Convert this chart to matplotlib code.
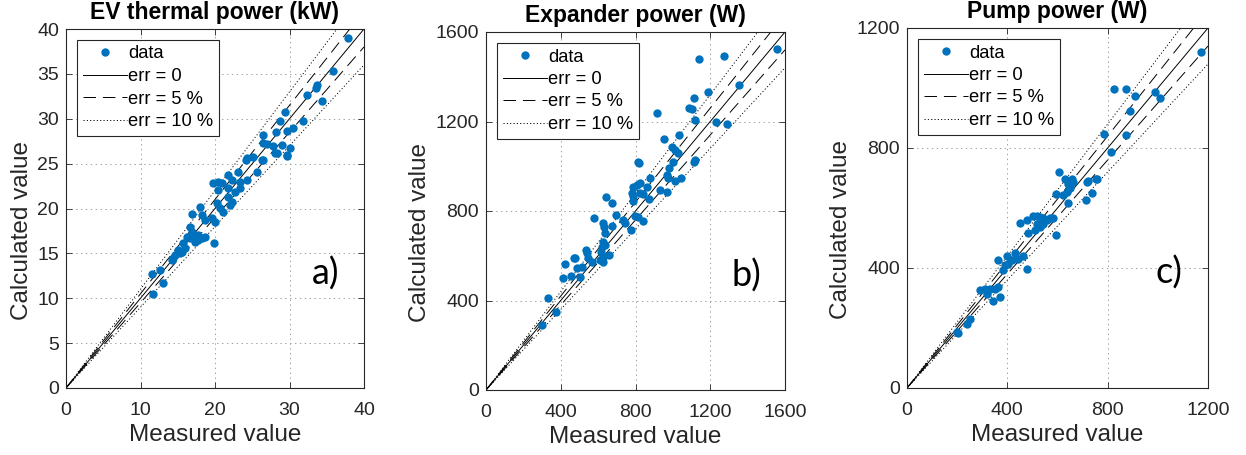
import numpy as np
import matplotlib
matplotlib.use("Agg")
import matplotlib.pyplot as plt

plt.rcParams['font.family'] = ['Liberation Sans', 'DejaVu Sans']
plt.rcParams['lines.scale_dashes'] = False

# ---- Panel a: EV thermal power (kW) ----
ev_meas = [37.9, 35.8, 33.7, 33.5, 32.3, 34.4, 29.4, 28.7, 31.8, 30.5, 29.7, 28.2, 26.4, 26.4, 27.0,
           27.8, 29.0, 30.1, 28.1, 29.7, 24.2, 25.1, 26.4, 25.6, 28.3, 21.7, 23.1, 19.7, 20.4, 20.9,
           22.3, 23.4, 24.3, 20.4, 21.7, 22.7, 23.4, 21.7, 22.3, 22.0, 18.0, 20.3, 20.7, 21.1, 16.9,
           18.3, 18.7, 19.6, 20.0, 16.6, 16.9, 16.2, 16.6, 17.0, 17.7, 18.3, 18.7, 17.3, 17.7, 19.9,
           15.7, 16.0, 15.0, 15.3, 14.6, 14.4, 14.2, 15.6, 11.5, 12.6, 13.0, 11.7, 24.3, 26.3, 29.7]
ev_calc = [39.0, 35.3, 33.8, 33.4, 32.6, 32.0, 30.8, 29.7, 29.8, 29.0, 28.6, 28.5, 28.2, 27.3, 27.2,
           27.0, 27.1, 26.7, 26.2, 26.0, 25.4, 25.7, 25.4, 24.1, 26.2, 23.7, 24.1, 22.8, 22.9, 22.8,
           23.2, 23.0, 23.2, 22.1, 22.3, 21.8, 22.3, 21.3, 20.7, 20.4, 20.2, 20.6, 20.1, 19.6, 19.4,
           19.3, 18.7, 18.9, 18.5, 17.9, 17.4, 16.8, 16.7, 16.8, 17.0, 16.7, 16.8, 16.3, 16.5, 16.2,
           16.2, 15.6, 15.4, 15.0, 14.8, 14.5, 14.3, 15.2, 12.7, 13.1, 11.7, 10.5, 25.6, 25.4, 25.9]

# ---- Panel b: Expander power (W) ----
exp_meas = [1555, 1274, 1141, 1356, 1190, 1113, 1088, 1101, 913, 1118, 1229, 1288, 1034, 952, 993,
            1011, 1029, 815, 820, 999, 1118, 1115, 981, 877, 788, 806, 824, 860, 976, 967, 1011,
            1042, 931, 967, 780, 785, 824, 838, 874, 785, 640, 672, 696, 578, 628, 633, 672, 735,
            744, 797, 815, 838, 774, 637, 628, 637, 619, 535, 539, 614, 628, 660, 473, 547, 566,
            610, 628, 423, 485, 512, 503, 453, 410, 334, 375, 298, 476]
exp_calc = [1523, 1493, 1478, 1363, 1333, 1306, 1262, 1256, 1236, 1207, 1196, 1187, 1140, 1120, 1087,
            1073, 1058, 1020, 1013, 1020, 1028, 1017, 991, 946, 909, 916, 924, 909, 946, 961, 935,
            946, 894, 886, 879, 867, 879, 875, 852, 846, 861, 834, 782, 767, 748, 730, 733, 760,
            745, 778, 772, 757, 715, 703, 663, 648, 640, 626, 614, 618, 596, 603, 591, 588, 573,
            581, 573, 563, 544, 551, 506, 509, 499, 412, 350, 290, 588]

# ---- Panel c: Pump power (W) ----
pump_meas = [1174, 825, 873, 908, 988, 1008, 888, 786, 875, 812, 606, 629, 656, 663, 720, 753, 736,
             649, 636, 596, 643, 716, 756, 712, 623, 643, 503, 517, 530, 543, 557, 570, 583, 450,
             477, 517, 530, 543, 483, 510, 596, 364, 397, 430, 464, 479, 390, 384, 404, 417, 443,
             291, 311, 331, 351, 364, 371, 344, 318, 251, 238, 204, 198]
pump_calc = [1120, 998, 996, 972, 985, 965, 922, 848, 842, 787, 720, 698, 696, 687, 689, 696, 651,
             665, 653, 648, 681, 687, 698, 626, 642, 617, 572, 572, 570, 565, 559, 565, 565, 551,
             561, 548, 537, 548, 517, 526, 511, 426, 439, 450, 439, 398, 409, 392, 415, 426, 431,
             328, 331, 331, 331, 337, 303, 290, 315, 231, 212, 183, 187]

titles = ["EV thermal power (kW)", "Expander power (W)", "Pump power (W)"]
limits = [40, 1600, 1200]
xsteps = [10, 400, 400]
ysteps = [5, 400, 400]
panel_tags = ["a)", "b)", "c)"]
err_levels = [0.05, 0.10]

measured = [ev_meas, exp_meas, pump_meas]
calculated = [ev_calc, exp_calc, pump_calc]

fig = plt.figure(figsize=(12.46, 4.55), dpi=100)
W, H = 1246, 455
boxes = [(66, 29, 364, 388), (486, 32, 785, 390), (907, 28, 1208, 388)]
blue = '#0072BD'
dark = '#262626'

for i in range(3):
    l, t, r, b = boxes[i]
    ax = fig.add_axes([l / W, 1 - b / H, (r - l) / W, (b - t) / H])
    lim = limits[i]
    xs = np.array([0, lim])
    ax.plot(measured[i], calculated[i], 'o', color=blue, markersize=6,
            markeredgewidth=0, label='data', zorder=3)
    ax.plot(xs, xs, '-', color='black', lw=0.7, label='err = 0', zorder=2)
    ax.plot(xs, xs * (1 + err_levels[0]), color='black', lw=0.7,
            dashes=(9, 5), label='err = 5 %', zorder=2)
    ax.plot(xs, xs * (1 - err_levels[0]), color='black', lw=0.7, dashes=(9, 5), zorder=2)
    ax.plot(xs, xs * (1 + err_levels[1]), color='black', lw=0.7,
            dashes=(0.8, 1.6), label='err = 10 %', zorder=2)
    ax.plot(xs, xs * (1 - err_levels[1]), color='black', lw=0.7, dashes=(0.8, 1.6), zorder=2)

    ax.set_xlim(0, lim)
    ax.set_ylim(0, lim)
    xt = np.arange(0, lim + 1e-9, xsteps[i])
    yt = np.arange(0, lim + 1e-9, ysteps[i])
    ax.set_xticks(xt)
    ax.set_yticks(yt)
    ax.set_xticklabels([f"{v:g}" for v in xt])
    ax.set_yticklabels([f"{v:g}" for v in yt])
    ax.tick_params(direction='in', top=True, right=True, labelsize=14,
                   length=4, width=0.6, colors=dark, pad=5)
    ax.tick_params(axis='x', pad=10)
    ax.grid(True, linestyle=(0, (1, 2.5)), color='#a0a0a0', lw=0.7)
    for s in ax.spines.values():
        s.set_linewidth(0.8)
        s.set_color(dark)

    ax.set_title(titles[i], fontsize=16.5, fontweight='bold', pad=7)
    ax.set_xlabel("Measured value", fontsize=17.5, color=dark, labelpad=4)
    ax.set_ylabel("Calculated value", fontsize=17.5, color=dark, labelpad=3)
    ax.yaxis.label.set_y(0.44)

    leg = ax.legend(loc='upper left', bbox_to_anchor=(11 / (r - l), 1 - 11 / (b - t)),
                    fontsize=13.2, handlelength=2.4, handletextpad=0.1,
                    borderpad=0.3, labelspacing=0.3, fancybox=False,
                    framealpha=1, edgecolor=dark, borderaxespad=0)
    leg.get_frame().set_linewidth(0.8)

    ax.text(0.87, 0.32, panel_tags[i], transform=ax.transAxes, fontsize=26,
            family=['Lato', 'DejaVu Sans'], ha='center', va='center')

fig.savefig("out.png", dpi=100)
